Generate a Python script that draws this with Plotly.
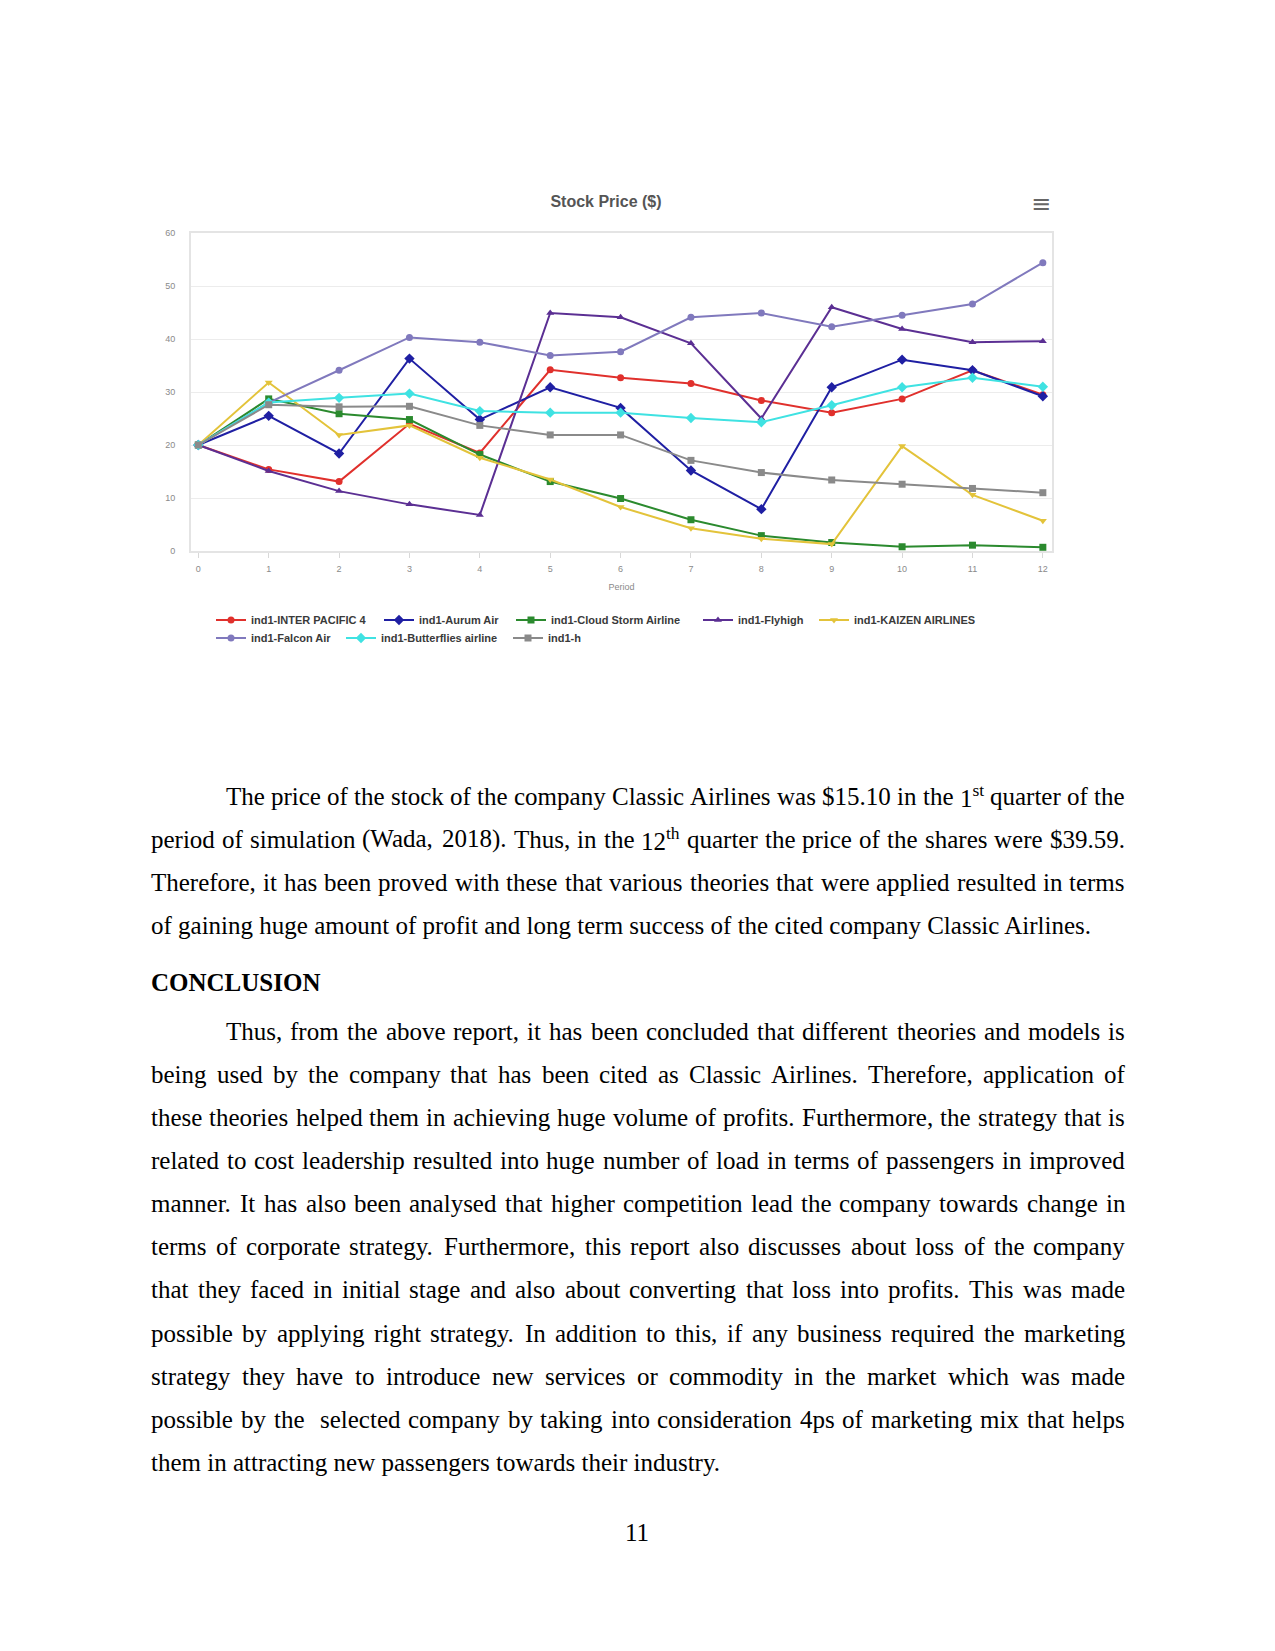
import re
import plotly.graph_objects as go

# ---------------- chart data ----------------
periods = list(range(13))
series_names = [
    "ind1-INTER PACIFIC 4", "ind1-Aurum Air", "ind1-Cloud Storm Airline",
    "ind1-Flyhigh", "ind1-KAIZEN AIRLINES", "ind1-Falcon Air",
    "ind1-Butterflies airline", "ind1-h",
]
inter_pacific = [20, 15.4, 13.1, 24.0, 18.5, 34.2, 32.7, 31.6, 28.4, 26.1, 28.7, 34.1, 29.5]
aurum_air = [20, 25.5, 18.4, 36.3, 24.8, 30.9, 27.0, 15.2, 7.9, 30.9, 36.1, 34.1, 29.2]
cloud_storm = [20, 28.7, 25.9, 24.8, 18.2, 13.1, 9.9, 5.9, 2.9, 1.6, 0.8, 1.1, 0.7]
flyhigh = [20, 15.1, 11.3, 8.8, 6.8, 44.9, 44.1, 39.2, 25.0, 46.0, 41.9, 39.4, 39.59]
kaizen = [20, 31.8, 21.9, 23.7, 17.6, 13.5, 8.3, 4.3, 2.3, 1.3, 19.8, 10.6, 5.7]
falcon_air = [20, 28.0, 34.1, 40.3, 39.4, 36.9, 37.6, 44.1, 44.9, 42.3, 44.5, 46.6, 54.4]
butterflies = [20, 28.0, 28.9, 29.7, 26.4, 26.1, 26.1, 25.1, 24.3, 27.5, 30.9, 32.7, 31.0]
ind1_h = [20, 27.6, 27.2, 27.3, 23.7, 21.9, 21.9, 17.1, 14.8, 13.4, 12.6, 11.8, 11.0]
series_values = [inter_pacific, aurum_air, cloud_storm, flyhigh, kaizen,
                 falcon_air, butterflies, ind1_h]
y_ticks = [0, 10, 20, 30, 40, 50, 60]

# ---------------- page text ----------------
para1 = [
    "The price of the stock of the company Classic Airlines was $15.10 in the 1<sup>st</sup> quarter of the",
    "period of simulation (Wada, 2018). Thus, in the 12<sup>th</sup> quarter the price of the shares were $39.59.",
    "Therefore, it has been proved with these that various theories that were applied resulted in terms",
    "of gaining huge amount of profit and long term success of the cited company Classic Airlines.",
]
heading = "CONCLUSION"
para2 = [
    "Thus, from the above report, it has been concluded that different theories and models is",
    "being used by the company that has been cited as Classic Airlines. Therefore, application of",
    "these theories helped them in achieving huge volume of profits. Furthermore, the strategy that is",
    "related to cost leadership resulted into huge number of load in terms of passengers in improved",
    "manner. It has also been analysed that higher competition lead the company towards change in",
    "terms of corporate strategy. Furthermore, this report also discusses about loss of the company",
    "that they faced in initial stage and also about converting that loss into profits. This was made",
    "possible by applying right strategy. In addition to this, if any business required the marketing",
    "strategy they have to introduce new services or commodity in the market which was made",
    "possible by the  selected company by taking into consideration 4ps of marketing mix that helps",
    "them in attracting new passengers towards their industry.",
]
page_number = "11"

# ---------------- styling / layout ----------------
colors = ["#e0302c", "#1f1fa3", "#2b8a2e", "#5b2f93", "#e3c33a",
          "#8079bd", "#3fe2e2", "#8a8a8a"]
symbols = ["circle", "diamond", "square", "triangle-up", "triangle-down",
           "circle", "diamond", "square"]
msizes = [7, 8, 7, 7, 7, 7, 8, 7]
legend_pos = [(250, 620), (418, 620), (550, 620), (737, 620), (853, 620),
              (250, 638), (380, 638), (547, 638)]

W_PX, H_PX = 1275, 1651
PL, PR, PT, PB = 191, 1052, 233, 551


def px_x(px):
    return (px - PL) / (PR - PL)


def px_y(py):
    return (PB - py) / (PB - PT)


fig = go.Figure()
for i, (name, vals) in enumerate(zip(series_names, series_values)):
    fig.add_trace(go.Scatter(
        x=periods, y=vals, mode="lines+markers", name=name,
        line=dict(color=colors[i], width=2),
        marker=dict(symbol=symbols[i], size=msizes[i], color=colors[i]),
        legend="legend" if i == 0 else f"legend{i + 1}",
    ))

layout_legends = {}
for i, (tx, ty) in enumerate(legend_pos):
    key = "legend" if i == 0 else f"legend{i + 1}"
    layout_legends[key] = dict(
        x=(tx - 39) / W_PX, y=1 - ty / H_PX, xref="container", yref="container",
        xanchor="left", yanchor="middle", orientation="h",
        bgcolor="rgba(0,0,0,0)", borderwidth=0,
        font=dict(family="Liberation Sans", size=11, color="#3a3a3a", weight="bold"),
        itemwidth=30,
    )

# ---- text layout (justified, Times metrics) ----
TW = {' ': 250, 'a': 444, 'b': 500, 'c': 444, 'd': 500, 'e': 444, 'f': 333, 'g': 500,
      'h': 500, 'i': 278, 'j': 278, 'k': 500, 'l': 278, 'm': 778, 'n': 500, 'o': 500,
      'p': 500, 'q': 500, 'r': 333, 's': 389, 't': 278, 'u': 500, 'v': 500, 'w': 722,
      'x': 500, 'y': 500, 'z': 444, 'A': 722, 'B': 667, 'C': 667, 'D': 722, 'E': 611,
      'F': 556, 'G': 722, 'H': 722, 'I': 333, 'J': 389, 'K': 722, 'L': 611, 'M': 889,
      'N': 722, 'O': 722, 'P': 556, 'Q': 722, 'R': 667, 'S': 556, 'T': 611, 'U': 722,
      'V': 722, 'W': 944, 'X': 722, 'Y': 722, 'Z': 611, '.': 250, ',': 250, '(': 333,
      ')': 333, '$': 500, '-': 333, "'": 333}
FS = 25
LEFT, RIGHT, INDENT = 150, 1124, 225


def word_width(w):
    total = 0.0
    for part in re.split(r"(<sup>.*?</sup>)", w):
        if part.startswith("<sup>"):
            inner = part[5:-6]
            total += 0.7 * sum(TW.get(c, 500) for c in inner)
        else:
            total += sum(TW.get(c, 500) for c in part)
    return total * FS / 1000.0


annotations = []
tfont = dict(family="Liberation Serif", size=FS, color="#000000")


def add_line(text, y, left, justify):
    if not justify:
        annotations.append(dict(text=text, x=px_x(left), y=px_y(y), xref="paper", yref="paper",
                                xanchor="left", yanchor="middle", showarrow=False,
                                font=tfont, borderpad=0))
        return
    words = text.split(" ")
    widths = [word_width(w) for w in words]
    gap = (RIGHT - left - sum(widths)) / (len(words) - 1)
    x = left
    for w, wd in zip(words, widths):
        if w:
            annotations.append(dict(text=w, x=px_x(x), y=px_y(y), xref="paper", yref="paper",
                                    xanchor="left", yanchor="middle", showarrow=False,
                                    font=tfont, borderpad=0))
        x += wd + gap


LS = 43.15
for i, line in enumerate(para1):
    add_line(line, 796 + i * LS, INDENT if i == 0 else LEFT, i < len(para1) - 1)

annotations.append(dict(text="<b>" + heading + "</b>", x=px_x(LEFT), y=px_y(982.5),
                        xref="paper", yref="paper", xanchor="left", yanchor="middle",
                        showarrow=False, font=tfont, borderpad=0))

for i, line in enumerate(para2):
    add_line(line, 1031 + i * LS, INDENT if i == 0 else LEFT, i < len(para2) - 1)

annotations.append(dict(text=page_number, x=px_x(637), y=px_y(1532), xref="paper", yref="paper",
                        xanchor="center", yanchor="middle", showarrow=False, font=tfont))

# hamburger (export menu) icon
annotations.append(dict(text="≡", x=px_x(1041), y=px_y(204), xref="paper", yref="paper",
                        xanchor="center", yanchor="middle", showarrow=False,
                        font=dict(family="DejaVu Sans", size=24, color="#666666")))

axis_font = dict(family="Liberation Sans", size=9, color="#8a8a8a")
fig.update_layout(
    width=W_PX, height=H_PX, autosize=False,
    margin=dict(l=PL, r=W_PX - PR, t=PT, b=H_PX - PB, pad=0, autoexpand=False),
    paper_bgcolor="white", plot_bgcolor="white",
    title=dict(text="Stock Price ($)", x=606 / W_PX, y=1 - 201.5 / H_PX,
               xref="container", yref="container", xanchor="center", yanchor="middle",
               automargin=False,
               font=dict(family="Liberation Sans", size=16, color="#555555", weight="bold")),
    xaxis=dict(range=[-0.104, 12.13], tickmode="array", tickvals=periods,
               ticktext=[str(p) for p in periods], ticks="outside", ticklen=5,
               tickcolor="#d8d8d8", showgrid=False, zeroline=False,
               showline=True, mirror=True, linecolor="#e4e4e4", linewidth=2,
               tickfont=axis_font, automargin=False, ticklabelstandoff=3,
               title=dict(text="Period", font=axis_font, standoff=11)),
    yaxis=dict(range=[0, 60], tickmode="array", tickvals=y_ticks,
               ticktext=[str(v) for v in y_ticks], showgrid=True, gridcolor="#ececec",
               gridwidth=1, zeroline=False, showline=True, mirror=True,
               linecolor="#e4e4e4", linewidth=2, tickfont=axis_font,
               ticklabelstandoff=12, automargin=False),
    annotations=annotations,
    showlegend=True,
    **layout_legends,
)

fig.write_html("out.html", config={"displayModeBar": False})
